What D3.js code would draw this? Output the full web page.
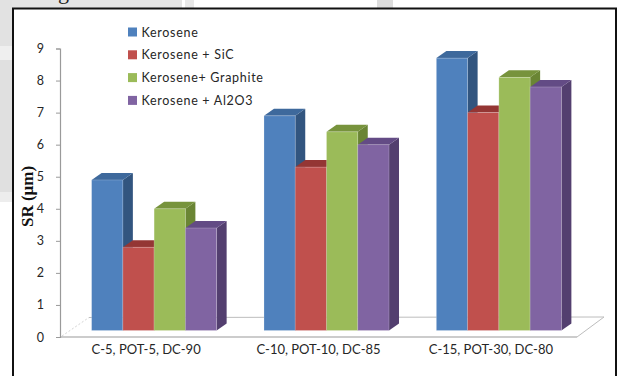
<!DOCTYPE html>
<html>
<head>
<meta charset="utf-8">
<script src="https://cdn.jsdelivr.net/npm/d3@7"></script>
<style>
  html, body { margin: 0; padding: 0; background: #fff; }
  svg { display: block; }
</style>
</head>
<body>
<svg id="chart" width="618" height="376"></svg>
<script>
// ---- data ----
const categories = ["C-5, POT-5, DC-90", "C-10, POT-10, DC-85", "C-15, POT-30, DC-80"];
const seriesNames = ["Kerosene", "Kerosene + SiC", "Kerosene+ Graphite", "Kerosene + Al2O3"];
const kerosene = [4.9, 6.9, 8.7];
const keroseneSiC = [2.8, 5.3, 7.0];
const keroseneGraphite = [4.0, 6.4, 8.1];
const keroseneAl2O3 = [3.4, 6.0, 7.8];
const yTicks = [0, 1, 2, 3, 4, 5, 6, 7, 8, 9];
const yLabel = "SR (\u03bcm)";

const seriesValues = [kerosene, keroseneSiC, keroseneGraphite, keroseneAl2O3];
const frontColors = ["#4F81BD", "#C0504D", "#9BBB59", "#8064A2"];
const topColors   = ["#3E699C", "#943634", "#77933C", "#634B85"];
const sideColors  = ["#32557F", "#8A3533", "#6A8534", "#533F6F"];

const svg = d3.select("#chart");

// ---- page background outside the frame ----
const bg = svg.append("g");
[[0,0,182,8,"#e4e4e4"],[185,0,9,8,"#e8e8e8"],[377,0,16,8,"#dddddd"],
 [0,0,12,46,"#e2e2e2"],[0,46,12,14,"#efefef"],[0,60,12,132,"#e0e0e0"],[0,192,12,10,"#ededed"]]
 .forEach(r => bg.append("rect").attr("x", r[0]).attr("y", r[1]).attr("width", r[2]).attr("height", r[3]).attr("fill", r[4]));
bg.append("text").attr("x", 58).attr("y", -1).attr("font-family", "Liberation Serif").attr("font-size", 22).attr("fill", "#222").text("g");

// ---- frame ----
svg.append("rect").attr("x", 13).attr("y", 8.5).attr("width", 603).attr("height", 380)
  .attr("fill", "#fff").attr("stroke", "#111").attr("stroke-width", 2);

// ---- scales ----
const y = d3.scaleLinear().domain([0, 9]).range([337, 48.5]);
const x0 = d3.scaleBand().domain(categories).range([60, 577]).paddingInner(0.2747).paddingOuter(0.137);
const x1 = d3.scaleBand().domain(seriesNames).range([0, x0.bandwidth()]);

const floorDX = 27, floorDY = -20;   // floor depth
const baseDX = 8, baseDY = -6.5;     // where bars stand within depth
const barDX = 10, barDY = -7;        // bar depth

// ---- floor ----
const [fx0, fx1] = x0.range();
const fy = y(0);
const floor = svg.append("g");
floor.append("polygon")
  .attr("points", [[fx0, fy], [fx1, fy], [fx1 + floorDX, fy + floorDY], [fx0 + floorDX + 2, fy + floorDY + 0.5]].join(" "))
  .attr("fill", "#fff").attr("stroke", "none");
floor.append("line").attr("x1", fx1).attr("y1", fy).attr("x2", fx1 + floorDX).attr("y2", fy + floorDY)
  .attr("stroke", "#bdbdbd").attr("stroke-width", 1);
floor.append("line").attr("x1", fx1 + floorDX).attr("y1", fy + floorDY).attr("x2", fx0 + floorDX + 2).attr("y2", fy + floorDY + 0.5)
  .attr("stroke", "#bdbdbd").attr("stroke-width", 1);
floor.append("line").attr("x1", fx0 + 2).attr("y1", fy - 1).attr("x2", fx0 + floorDX + 2).attr("y2", fy + floorDY + 0.5)
  .attr("stroke", "#d4d4d4").attr("stroke-width", 1).attr("stroke-dasharray", "2,2");

// ---- bars ----
const bars = svg.append("g");
categories.forEach((cat, ci) => {
  seriesNames.forEach((s, si) => {
    const v = seriesValues[si][ci];
    const xl = x0(cat) + x1(s) + baseDX;
    const w = x1.bandwidth();
    const yt = y(v);
    const yb = y(0) + baseDY;
    // side
    bars.append("polygon")
      .attr("points", [[xl + w, yt], [xl + w + barDX, yt + barDY], [xl + w + barDX, yb + barDY], [xl + w, yb]].join(" "))
      .attr("fill", sideColors[si]);
    // top
    bars.append("polygon")
      .attr("points", [[xl, yt], [xl + barDX, yt + barDY], [xl + w + barDX, yt + barDY], [xl + w, yt]].join(" "))
      .attr("fill", topColors[si]);
    // front
    bars.append("rect")
      .attr("x", xl).attr("y", yt).attr("width", w).attr("height", yb - yt)
      .attr("fill", frontColors[si])
      .attr("stroke", "rgba(255,255,255,0.25)").attr("stroke-width", 0.8);
  });
});

// ---- front floor edge (category axis line) ----
svg.append("line").attr("x1", fx0).attr("y1", fy).attr("x2", fx1).attr("y2", fy)
  .attr("stroke", "#9a9a9a").attr("stroke-width", 1.2);

// ---- y axis ----
const yAxis = d3.axisLeft(y).tickValues(yTicks).tickSize(4).tickPadding(12).tickFormat(d3.format("d"));
const ya = svg.append("g").attr("transform", "translate(60,0)").call(yAxis);
ya.select(".domain").attr("stroke", "#9a9a9a").attr("stroke-width", 1.2);
ya.selectAll(".tick line").attr("stroke", "#9a9a9a");
ya.selectAll(".tick text").attr("font-family", "Lato, 'Open Sans', sans-serif").attr("font-size", 12.5).attr("fill", "#262626");

// ---- category labels ----
svg.append("g").selectAll("text").data(categories).join("text")
  .attr("x", d => x0(d) + x0.bandwidth() / 2)
  .attr("y", 354)
  .attr("text-anchor", "middle")
  .attr("font-family", "Lato, 'Open Sans', sans-serif")
  .attr("font-size", 13)
  .attr("fill", "#262626")
  .text(d => d);

// ---- y label ----
svg.append("text")
  .attr("transform", "translate(33,196.5) rotate(-90)")
  .attr("text-anchor", "middle")
  .attr("font-family", "'Liberation Serif', 'DejaVu Serif', serif")
  .attr("font-weight", "bold")
  .attr("font-size", 17)
  .attr("fill", "#111")
  .text(yLabel);

// ---- legend ----
const legend = svg.append("g");
seriesNames.forEach((s, i) => {
  const cy = 32 + i * 22.8;
  legend.append("rect").attr("x", 128).attr("y", cy - 4.5).attr("width", 9).attr("height", 9).attr("fill", frontColors[i]);
  legend.append("text").attr("x", 141.5).attr("y", cy + 4.5)
    .attr("font-family", "Lato, 'Open Sans', sans-serif").attr("font-size", 12.5)
    .attr("letter-spacing", 0.7)
    .attr("fill", "#262626").text(s);
});
</script>
</body>
</html>
